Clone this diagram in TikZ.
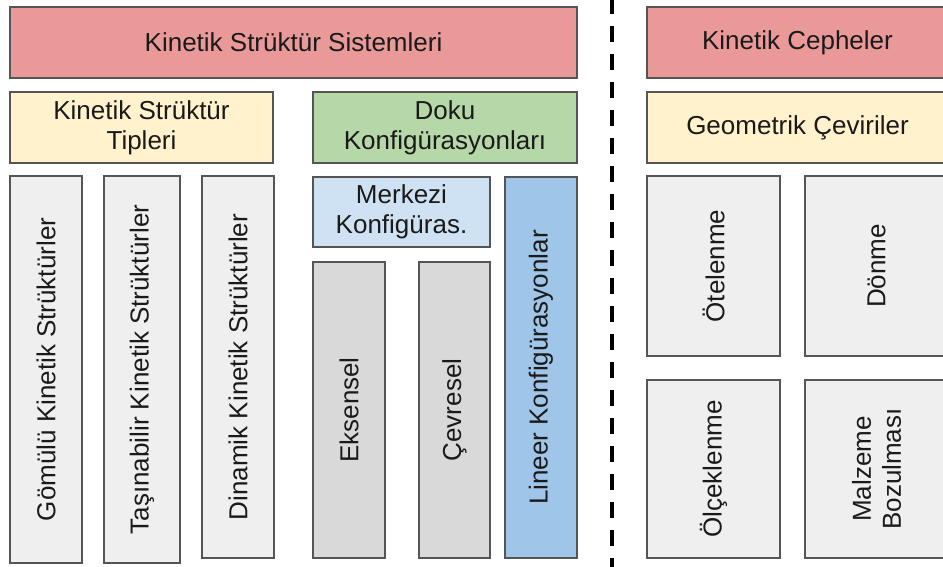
\documentclass[tikz,border=0pt]{standalone}
\usepackage{fontspec}
\setmainfont{Liberation Sans}
\definecolor{edge}{HTML}{555555}
\definecolor{ink}{HTML}{1A1A1A}
\definecolor{redfill}{HTML}{EA9999}
\definecolor{yellowfill}{HTML}{FFF2CC}
\definecolor{greenfill}{HTML}{B6D7A8}
\definecolor{paleblue}{HTML}{CFE2F3}
\definecolor{midblue}{HTML}{9FC5E8}
\definecolor{lightgrey}{HTML}{EFEFEF}
\definecolor{midgrey}{HTML}{D9D9D9}
\tikzset{
  x=1pt, y=-1pt,
  cell/.style={draw=edge, line width=1.2pt, inner sep=0pt, align=center,
    text=ink, font=\fontsize{26}{30}\selectfont},
  upright/.style={rotate=90},
  divider/.style={line width=4pt, dash pattern=on 16pt off 12pt, dash phase=2pt}
}
\begin{document}
\begin{tikzpicture}
\useasboundingbox (0,0) rectangle (943,567);
\clip (0,0) rectangle (943,567);

% left part: kinetic structure systems
\node[cell, fill=redfill, minimum width=567pt, minimum height=71pt] (sys) at (293.5,42.5) {Kinetik Strüktür Sistemleri};
\node[cell, fill=yellowfill, minimum width=263pt, minimum height=71pt] (types) at (141.5,127.5) {Kinetik Strüktür\\Tipleri};
\node[cell, fill=greenfill, minimum width=264pt, minimum height=71pt] (doku) at (445,127.5) {Doku\\Konfigürasyonları};

\node[cell, fill=lightgrey, upright, minimum width=387pt, minimum height=72pt] (gomulu) at (46,369.5) {Gömülü Kinetik Strüktürler};
\node[cell, fill=lightgrey, upright, minimum width=387pt, minimum height=76pt] (tasin) at (142,369.5) {Taşınabilir Kinetik Strüktürler};
\node[cell, fill=lightgrey, upright, minimum width=382pt, minimum height=72pt] (dinamik) at (238,367) {Dinamik Kinetik Strüktürler};

\node[cell, fill=paleblue, minimum width=177pt, minimum height=70pt] (merkezi) at (401.5,212) {Merkezi\\Konfigüras.};
\node[cell, fill=midblue, upright, minimum width=381pt, minimum height=72pt] (lineer) at (541,367.5) {Lineer Konfigürasyonlar};
\node[cell, fill=midgrey, upright, minimum width=296pt, minimum height=72pt] (eksensel) at (349,410) {Eksensel};
\node[cell, fill=midgrey, upright, minimum width=296pt, minimum height=71pt] (cevresel) at (454.5,410) {Çevresel};

% separator
\coordinate (dtop) at (612,0);
\coordinate (dbot) at (612,567);
\draw[divider] (dtop) -- (dbot);

% right part: kinetic facades
\node[cell, fill=redfill, minimum width=301pt, minimum height=71pt] (cephe) at (797.5,42.5) {Kinetik Cepheler};
\node[cell, fill=yellowfill, minimum width=301pt, minimum height=71pt] (geom) at (797.5,127.5) {Geometrik Çeviriler};
\node[cell, fill=lightgrey, upright, minimum width=180pt, minimum height=133pt] (otel) at (713.5,266) {Ötelenme};
\node[cell, fill=lightgrey, upright, minimum width=180pt, minimum height=143pt] (donme) at (876.5,266) {Dönme};
\node[cell, fill=lightgrey, upright, minimum width=178pt, minimum height=133pt] (olcek) at (713.5,469) {Ölçeklenme};
\node[cell, fill=lightgrey, upright, minimum width=178pt, minimum height=143pt] (malz) at (876.5,469) {Malzeme\\Bozulması};
\end{tikzpicture}
\end{document}
